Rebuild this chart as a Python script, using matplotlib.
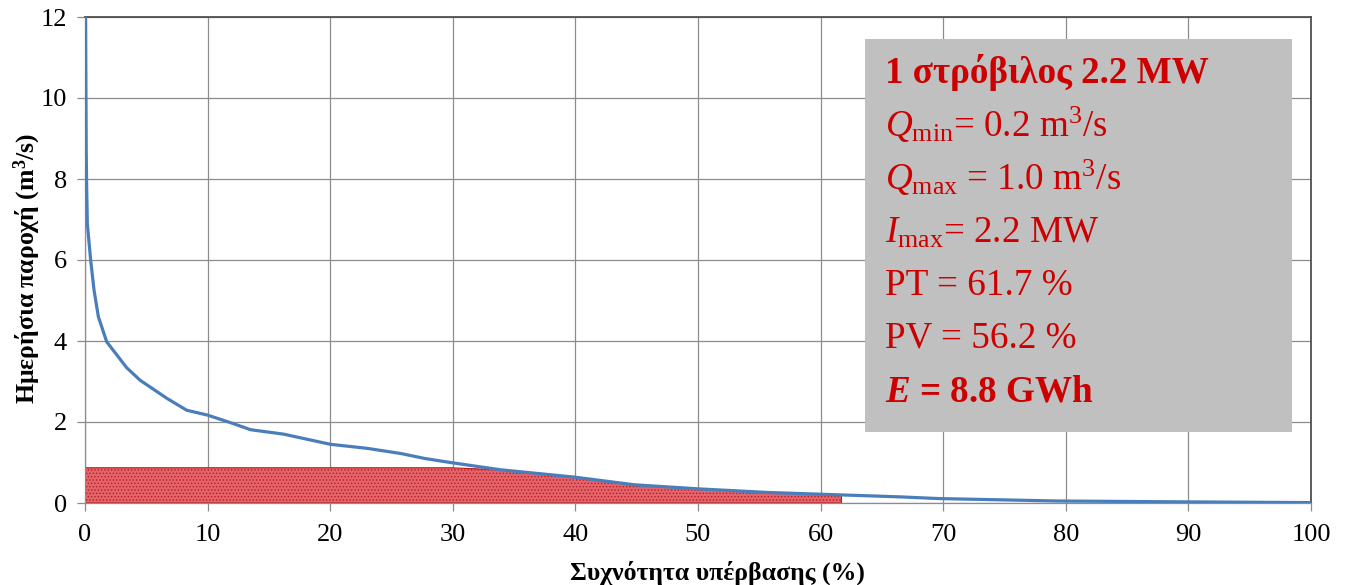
import numpy as np
import matplotlib
matplotlib.use("Agg")
import matplotlib.pyplot as plt

plt.rcParams['font.family'] = ['Liberation Serif', 'DejaVu Serif']
plt.rcParams['mathtext.fontset'] = 'custom'
plt.rcParams['mathtext.rm'] = 'Liberation Serif'
plt.rcParams['mathtext.it'] = 'Liberation Serif:italic'
plt.rcParams['mathtext.bf'] = 'Liberation Serif:bold'
plt.rcParams['mathtext.bfit'] = 'Liberation Serif:bold:italic'
plt.rcParams['hatch.linewidth'] = 0.6

# Flow duration curve
exceed = [0.05, 0.1, 0.13, 0.19, 0.46, 0.74, 1.09, 1.77, 3.4, 4.5, 6.7, 8.3, 10, 12.1,
          13.5, 16.2, 20, 23, 25.8, 27.7, 29.8, 33.9, 39.9, 44.8, 50, 55.7, 61.7,
          66.6, 69.6, 79.2, 88.7, 100]
flow = [12.0, 8.7, 7.9, 6.9, 6.0, 5.25, 4.6, 3.98, 3.34, 3.03, 2.58, 2.29, 2.17, 1.96,
        1.81, 1.70, 1.45, 1.35, 1.22, 1.10, 1.0, 0.82, 0.64, 0.45, 0.35, 0.26, 0.20,
        0.15, 0.11, 0.05, 0.03, 0.01]

turbine_cap = 0.87   # flow used by the turbine (top of red area)
pt_limit = 61.7      # percent of time in operation

info_lines = [
    r'1 στρόβιλος 2.2 MW',
    r'$\mathit{Q}_{\mathrm{min}}$= 0.2 m$^{3}$/s',
    r'$\mathit{Q}_{\mathrm{max}}$ = 1.0 m$^{3}$/s',
    r'$\mathit{I}_{\mathrm{max}}$= 2.2 MW',
    r'PT = 61.7 %',
    r'PV = 56.2 %',
    r'$\mathbfit{E}$ = 8.8 GWh',
]
info_bold = [True, False, False, False, False, False, True]

W, H = 1347, 585
fig = plt.figure(figsize=(W / 100, H / 100), dpi=100)
ax = fig.add_axes([85 / W, 1 - 503 / H, (1311 - 85) / W, (503 - 17) / H])

x = np.array(exceed)
q = np.array(flow)

# red area: used flow up to PT
mask = x <= pt_limit
xs = np.concatenate([[0], x[mask]])
qs = np.minimum(np.concatenate([[q[0]], q[mask]]), turbine_cap)
ax.fill_between(xs, 0, qs, facecolor='#e4646c', edgecolor='#b81c1c',
                hatch='.....', linewidth=0.8, zorder=2)

ax.plot(x, q, color='#4a7ebb', linewidth=2.3, zorder=3)

ax.set_xlim(0, 100)
ax.set_ylim(0, 12)
ax.set_xticks(np.arange(0, 101, 10))
ax.set_yticks(np.arange(0, 13, 2))
ax.grid(True, color='#8c8c8c', linewidth=0.9)
ax.set_axisbelow(True)
ax.tick_params(axis='both', labelsize=19, color='#8c8c8c', length=6, width=0.9,
               direction='out')
ax.tick_params(axis='x', pad=9)
ax.tick_params(axis='y', pad=7)
for s in ['left', 'bottom']:
    ax.spines[s].set_color('#8c8c8c')
    ax.spines[s].set_linewidth(0.9)
for s in ['top', 'right']:
    ax.spines[s].set_color('#505050')
    ax.spines[s].set_linewidth(1.3)

fig.text(717 / W, 1 - 573 / H, 'Συχνότητα υπέρβασης (%)', ha='center', va='center',
         fontsize=18.5, fontweight='bold')
fig.text(27 / W, 1 - 268 / H, 'Ημερήσια παροχή (m$^{\\mathbf{3}}$/s)', ha='center',
         va='center', rotation=90, fontsize=18.5, fontweight='bold')

# info box
box = plt.Rectangle((865 / W, 1 - 432 / H), (1292 - 865) / W, (432 - 39) / H,
                    transform=fig.transFigure, facecolor='#c0c0c0', edgecolor='none',
                    zorder=5)
fig.patches.append(box)
baselines = [83, 137, 190, 243, 295, 348, 402]
for line, yb, bold in zip(info_lines, baselines, info_bold):
    fig.text(885 / W, 1 - yb / H, line, ha='left', va='baseline', fontsize=26.7,
             color='#cc0000', fontweight='bold' if bold else 'normal', zorder=6)

fig.savefig('out.png', dpi=100)
